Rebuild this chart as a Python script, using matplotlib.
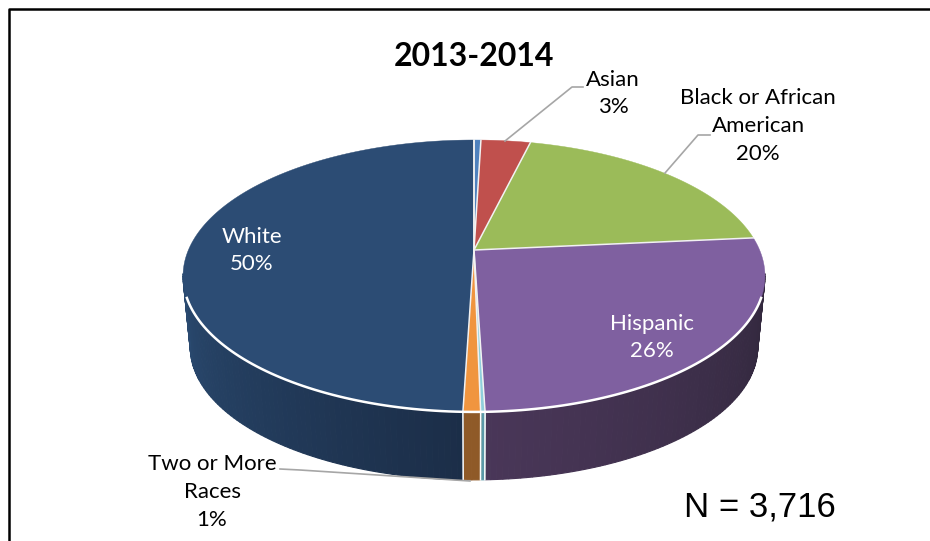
import numpy as np
import matplotlib
matplotlib.use('Agg')
import matplotlib.pyplot as plt
from matplotlib.colors import to_rgb

# clockwise from 12 o'clock
categories = ['American Indian', 'Asian', 'Black or African\nAmerican', 'Hispanic',
              'Pacific Islander', 'Two or More\nRaces', 'White']
shares = [0.46, 3.3, 19.74, 26.0, 0.2, 0.8, 49.5]
pct_labels = ['', '3%', '20%', '26%', '', '1%', '50%']
top_colors = ['#4f81bd', '#c0504d', '#9bbb59', '#7f60a0', '#8fd0dc', '#f0953f', '#2c4c74']
side_front = ['#4f81bd', '#c0504d', '#9bbb59', '#4a3759', '#5a9aa8', '#8f5a28', '#1b2d47']
side_back = ['#4f81bd', '#c0504d', '#9bbb59', '#31273c', '#5a9aa8', '#8f5a28', '#2a4a70']

CX, APEX_Y = 474.0, 250.0
A, B, K = 131.0, 285.6, 0.191
DEPTH, BOTTOM_SCALE = 72.0, 0.975


def project(t, scale=1.0, drop=0.0):
    # t is the clockwise angle from the top, the rim is seen in perspective
    x, y = np.sin(t), np.cos(t)
    den = 1 + K * y
    return CX + scale * B * x / den, APEX_Y + drop - scale * A * y / den


def mix(c1, c2, f):
    return tuple((1 - f) * a + f * b for a, b in zip(to_rgb(c1), to_rgb(c2)))


fig = plt.figure(figsize=(9.3, 5.41), dpi=100)
ax = fig.add_axes([0, 0, 1, 1])
ax.set_xlim(0, 930)
ax.set_ylim(541, 0)
ax.axis('off')

edges = np.radians(np.concatenate([[0], np.cumsum(shares)]) * 3.6)

# side wall
for i in range(len(shares)):
    lo, hi = max(edges[i], np.radians(100)), min(edges[i + 1], np.radians(260))
    if hi <= lo:
        continue
    ts = np.linspace(lo, hi, max(2, int(np.degrees(hi - lo)) + 1))
    for t0, t1 in zip(ts[:-1], ts[1:]):
        f = abs(np.degrees((t0 + t1) / 2) - 180) / 80
        color = mix(side_front[i], side_back[i], min(f, 1))
        tt = np.array([t0, t1])
        x1, y1 = project(tt)
        x2, y2 = project(tt[::-1], BOTTOM_SCALE, DEPTH)
        ax.fill(np.r_[x1, x2], np.r_[y1, y2], facecolor=color, edgecolor=color, lw=0.8, zorder=2)

# white separators on the wall
for t in edges:
    if np.radians(110) < t < np.radians(250):
        x1, y1 = project(t)
        x2, y2 = project(t, BOTTOM_SCALE, DEPTH)
        ax.plot([x1, x2], [y1, y2], color='white', lw=1.1, zorder=3)

# top face
for i in range(len(shares)):
    ts = np.linspace(edges[i], edges[i + 1], max(2, int(shares[i] * 4)))
    x, y = project(ts)
    ax.fill(np.r_[CX, x], np.r_[APEX_Y, y], facecolor=top_colors[i], edgecolor=top_colors[i],
            lw=0.3, zorder=4)
# separators on the top face
for t in edges:
    x, y = project(t)
    ax.plot([CX, x], [APEX_Y, y], color='#f2f2f2', lw=1.1, zorder=4.5)

# light rim where the top meets the wall
ts = np.radians(np.linspace(110, 250, 120))
ax.plot(*project(ts), color='white', lw=1.8, zorder=5)

# leader lines
ax.plot([505, 572, 583], [141, 87, 87], color='#a6a6a6', lw=1.2, zorder=6)
ax.plot([665, 698, 710], [173, 135, 135], color='#a6a6a6', lw=1.2, zorder=6)
ax.plot([280, 300, 470], [469, 470, 481], color='#a6a6a6', lw=1.2, zorder=6)

# frame, only the top and left edges survive the crop of the source
ax.plot([8.5, 8.5, 930], [541, 9, 9], color='black', lw=1.8, zorder=7)

LABEL_FONT = 'Lato'
label_spots = {1: (613, 93.5, 'black'), 2: (758, 126, 'black'), 3: (652, 337.5, 'white'),
               5: (212, 492, 'black'), 6: (252, 250.5, 'white')}
for i, (x, y, color) in label_spots.items():
    ax.text(x, y, categories[i] + '\n' + pct_labels[i], ha='center', va='center', color=color,
            fontsize=16, family=LABEL_FONT, linespacing=1.47, zorder=8)

ax.text(474, 56, '2013-2014', ha='center', va='center', fontsize=23, fontweight='bold',
        family=LABEL_FONT, zorder=8)
ax.text(760, 507, 'N = 3,716', ha='center', va='center', fontsize=25,
        family='Liberation Sans', zorder=8)

plt.savefig('out.png', dpi=100)
